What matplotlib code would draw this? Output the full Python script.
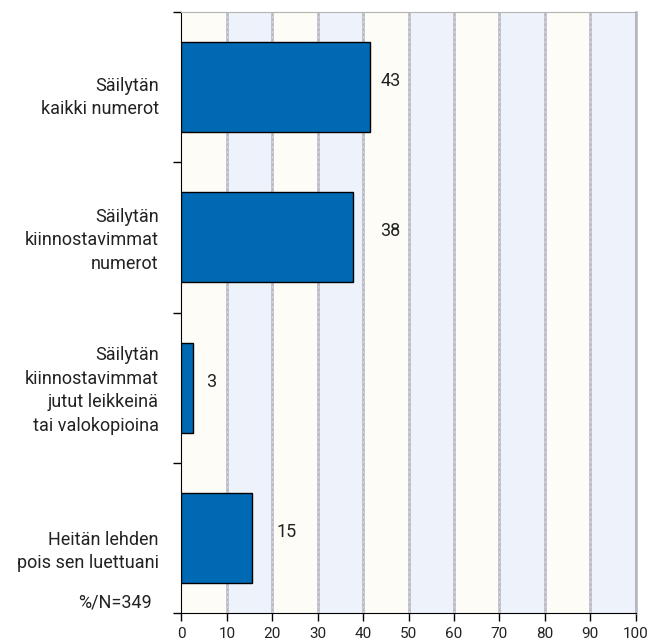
import matplotlib
matplotlib.use('Agg')
import matplotlib.pyplot as plt

plt.rcParams['font.family'] = ['Roboto', 'DejaVu Sans']

# --- data ---
categories = ['Säilytän\nkaikki numerot',
              'Säilytän\nkiinnostavimmat\nnumerot',
              'Säilytän\nkiinnostavimmat\njutut leikkeinä\ntai valokopioina',
              'Heitän lehden\npois sen luettuani']
bar_values = [41.5, 37.7, 2.6, 15.5]
value_labels = ['43', '38', '3', '15']
note = '%/N=349'
xticks = list(range(0, 101, 10))

# --- layout ---
label_x = [46, 46, 6.6, 23.2]
cat_offset = [0.07, 0.02, 0.02, 0.09]

fig = plt.figure(figsize=(6.49, 6.44), dpi=100)
ax = fig.add_axes([181.5 / 649, 31 / 644, 454 / 649, 601 / 644])

# alternating background bands
for i in range(10):
    color = '#fdfcf6' if i % 2 == 0 else '#eef2fb'
    ax.axvspan(i * 10, i * 10 + 10, color=color, zorder=0, lw=0)
for x in xticks[1:]:
    ax.axvline(x, color='#b4b4c0', lw=1.8, zorder=1)
    ax.axvline(x, color='#d8d8e8', lw=0.6, ls=(0, (3, 3)), zorder=1)

y = list(range(len(categories)))
ax.barh(y, bar_values, height=0.6, color='#0069b4', edgecolor='black',
        linewidth=1, zorder=3)

for yi, lx, lab in zip(y, label_x, value_labels):
    ax.text(lx, yi - 0.04, lab, ha='center', va='center', fontsize=13,
            color='#222222', zorder=4)

for yi, off, cat in zip(y, cat_offset, categories):
    ax.text(-5.0, yi + off, cat, ha='right', va='center', fontsize=13,
            color='#222222', linespacing=1.4, clip_on=False)

ax.text(-6.5, 3.43, note, ha='right', va='center', fontsize=13,
        color='#222222', clip_on=False)

ax.set_xlim(0, 100)
ax.set_ylim(3.5, -0.5)
ax.set_xticks(xticks)
ax.set_xticklabels([str(t) for t in xticks], fontsize=11, color='#222222')
ax.set_yticks([-0.5, 0.5, 1.5, 2.5, 3.5])
ax.set_yticklabels([])
ax.tick_params(axis='y', direction='out', length=6, width=1, color='black')
ax.tick_params(axis='x', direction='out', length=6, width=1, color='black',
               pad=4)

ax.spines['left'].set_color('black')
ax.spines['bottom'].set_color('black')
ax.spines['top'].set_color('#b4b4b4')
ax.spines['right'].set_color('#b4b4c0')
ax.spines['right'].set_linewidth(1.8)

fig.savefig('out.png', dpi=100)
